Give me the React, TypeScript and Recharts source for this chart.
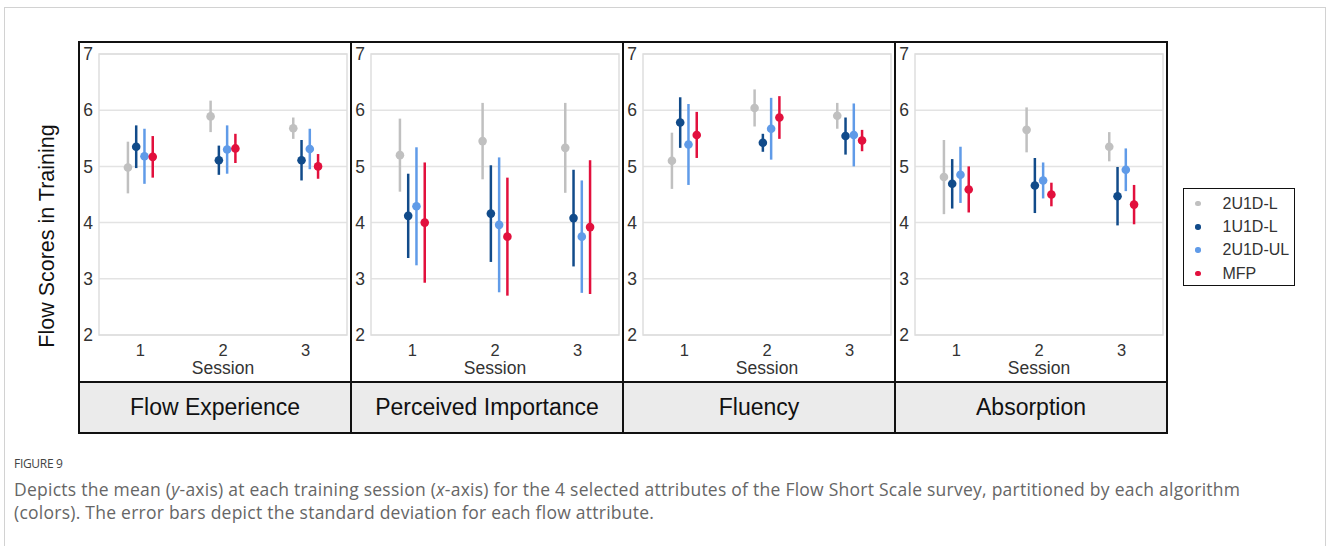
import {
  CartesianGrid,
  ErrorBar,
  ReferenceArea,
  Scatter,
  ScatterChart,
  XAxis,
  YAxis,
} from "recharts";

const SESSIONS = [1, 2, 3];
const Y_TICKS = [2, 3, 4, 5, 6, 7];
const SERIES = ["2U1D-L", "1U1D-L", "2U1D-UL", "MFP"];
const COLORS = ["#c0c0c0", "#114b8a", "#609be8", "#e2103d"];
// horizontal dodge of each algorithm around the session position
const DODGE = [-0.15, -0.05, 0.05, 0.15];
const PANELS = ["Flow Experience", "Perceived Importance", "Fluency", "Absorption"];

// rows = series (SERIES order), columns = sessions
const flowExperienceMean = [
  [4.98, 5.89, 5.68],
  [5.35, 5.11, 5.11],
  [5.18, 5.3, 5.31],
  [5.17, 5.32, 5.0],
];
const flowExperienceSd = [
  [0.46, 0.28, 0.19],
  [0.38, 0.26, 0.36],
  [0.49, 0.43, 0.36],
  [0.37, 0.26, 0.22],
];

const importanceMean = [
  [5.2, 5.45, 5.33],
  [4.12, 4.16, 4.08],
  [4.29, 3.96, 3.75],
  [4.0, 3.75, 3.92],
];
const importanceSd = [
  [0.65, 0.68, 0.8],
  [0.75, 0.86, 0.86],
  [1.05, 1.2, 1.0],
  [1.07, 1.05, 1.19],
];

const fluencyMean = [
  [5.1, 6.04, 5.9],
  [5.78, 5.42, 5.54],
  [5.39, 5.67, 5.56],
  [5.56, 5.87, 5.46],
];
const fluencySd = [
  [0.5, 0.33, 0.23],
  [0.45, 0.16, 0.33],
  [0.72, 0.55, 0.56],
  [0.41, 0.38, 0.19],
];

const absorptionMean = [
  [4.81, 5.65, 5.35],
  [4.69, 4.66, 4.47],
  [4.85, 4.75, 4.94],
  [4.59, 4.5, 4.32],
];
const absorptionSd = [
  [0.66, 0.4, 0.26],
  [0.44, 0.49, 0.52],
  [0.5, 0.32, 0.38],
  [0.41, 0.21, 0.35],
];

const MEANS = [flowExperienceMean, importanceMean, fluencyMean, absorptionMean];
const SDS = [flowExperienceSd, importanceSd, fluencySd, absorptionSd];

const FONT = "'Liberation Sans', Arial, sans-serif";

function Panel({ index }: { index: number }) {
  const means = MEANS[index];
  const sds = SDS[index];
  return (
    <ScatterChart width={270} height={338} margin={{ top: 11, right: 3, bottom: 0, left: 0 }}>
      <CartesianGrid vertical={false} stroke="#e3e3e3" strokeWidth={1.5} />
      <ReferenceArea
        x1={0.5}
        x2={3.5}
        y1={2}
        y2={7}
        fill="none"
        stroke="#dedede"
        strokeWidth={1.5}
        fillOpacity={0}
      />
      <XAxis
        type="number"
        dataKey="x"
        domain={[0.5, 3.5]}
        ticks={SESSIONS}
        axisLine={false}
        tickLine={false}
        height={46}
        tickMargin={3}
        tick={{ fill: "#333", fontSize: 16.5, fontFamily: FONT }}
        label={{
          value: "Session",
          position: "insideBottom",
          offset: 7,
          fill: "#333",
          fontSize: 17.5,
          fontFamily: FONT,
        }}
      />
      <YAxis
        type="number"
        dataKey="y"
        domain={[2, 7]}
        ticks={Y_TICKS}
        axisLine={false}
        tickLine={false}
        width={19}
        tickMargin={0}
        tick={{ fill: "#333", fontSize: 17.5, fontFamily: FONT }}
      />
      {SERIES.map((name, s) => (
        <Scatter
          key={name}
          name={name}
          data={SESSIONS.map((session, j) => ({
            x: session + DODGE[s],
            y: means[s][j],
            sd: sds[s][j],
          }))}
          fill={COLORS[s]}
          isAnimationActive={false}
          shape={(p: any) => <circle cx={p.cx} cy={p.cy} r={4.3} fill={COLORS[s]} />}
        >
          <ErrorBar dataKey="sd" direction="y" width={0} stroke={COLORS[s]} strokeWidth={2.5} />
        </Scatter>
      ))}
    </ScatterChart>
  );
}

export default function App() {
  return (
    <div
      style={{
        position: "absolute",
        left: 0,
        top: 0,
        width: 1328,
        height: 546,
        overflow: "hidden",
        background: "#fff",
        fontFamily: FONT,
      }}
    >
      <div
        style={{
          position: "absolute",
          left: 4,
          top: 7,
          width: 1320,
          height: 600,
          border: "1px solid #d2d2d2",
        }}
      />
      <div
        style={{
          position: "absolute",
          left: 47,
          top: 236,
          transform: "translate(-50%, -50%) rotate(-90deg)",
          whiteSpace: "nowrap",
          fontSize: 21.5,
          color: "#111",
        }}
      >
        Flow Scores in Training
      </div>
      <div
        style={{
          position: "absolute",
          left: 78,
          top: 41,
          border: "2px solid #111",
          display: "flex",
        }}
      >
        {PANELS.map((title, i) => (
          <div
            key={title}
            style={{
              width: 270,
              borderRight: i < PANELS.length - 1 ? "2px solid #111" : "none",
            }}
          >
            <Panel index={i} />
            <div
              style={{
                height: 49,
                borderTop: "2px solid #111",
                background: "#ebebeb",
                display: "flex",
                alignItems: "center",
                justifyContent: "center",
                fontSize: 23,
                color: "#111",
              }}
            >
              {title}
            </div>
          </div>
        ))}
      </div>
      <div
        style={{
          position: "absolute",
          left: 1183,
          top: 188,
          width: 112,
          height: 98,
          border: "1.5px solid #111",
          boxSizing: "border-box",
          paddingTop: 3,
        }}
      >
        {SERIES.map((name, s) => (
          <div key={name} style={{ display: "flex", alignItems: "center", height: 23.3 }}>
            <span
              style={{
                display: "inline-block",
                width: 5.5,
                height: 5.5,
                borderRadius: "50%",
                background: COLORS[s],
                marginLeft: 11,
                marginRight: 22,
              }}
            />
            <span style={{ fontSize: 16, color: "#333" }}>{name}</span>
          </div>
        ))}
      </div>
      <div
        style={{
          position: "absolute",
          left: 14,
          top: 455,
          fontFamily: "'Open Sans', sans-serif",
          fontSize: 12,
          color: "#444",
          letterSpacing: -0.3,
        }}
      >
        FIGURE 9
      </div>
      <div
        style={{
          position: "absolute",
          left: 14,
          top: 478,
          width: 1300,
          fontFamily: "'Open Sans', sans-serif",
          fontSize: 17.5,
          letterSpacing: 0.25,
          lineHeight: "23px",
          color: "#666",
          whiteSpace: "nowrap",
        }}
      >
        Depicts the mean (<i>y</i>-axis) at each training session (<i>x</i>-axis) for the 4 selected
        attributes of the Flow Short Scale survey, partitioned by each algorithm
        <br />
        (colors). The error bars depict the standard deviation for each flow attribute.
      </div>
    </div>
  );
}
